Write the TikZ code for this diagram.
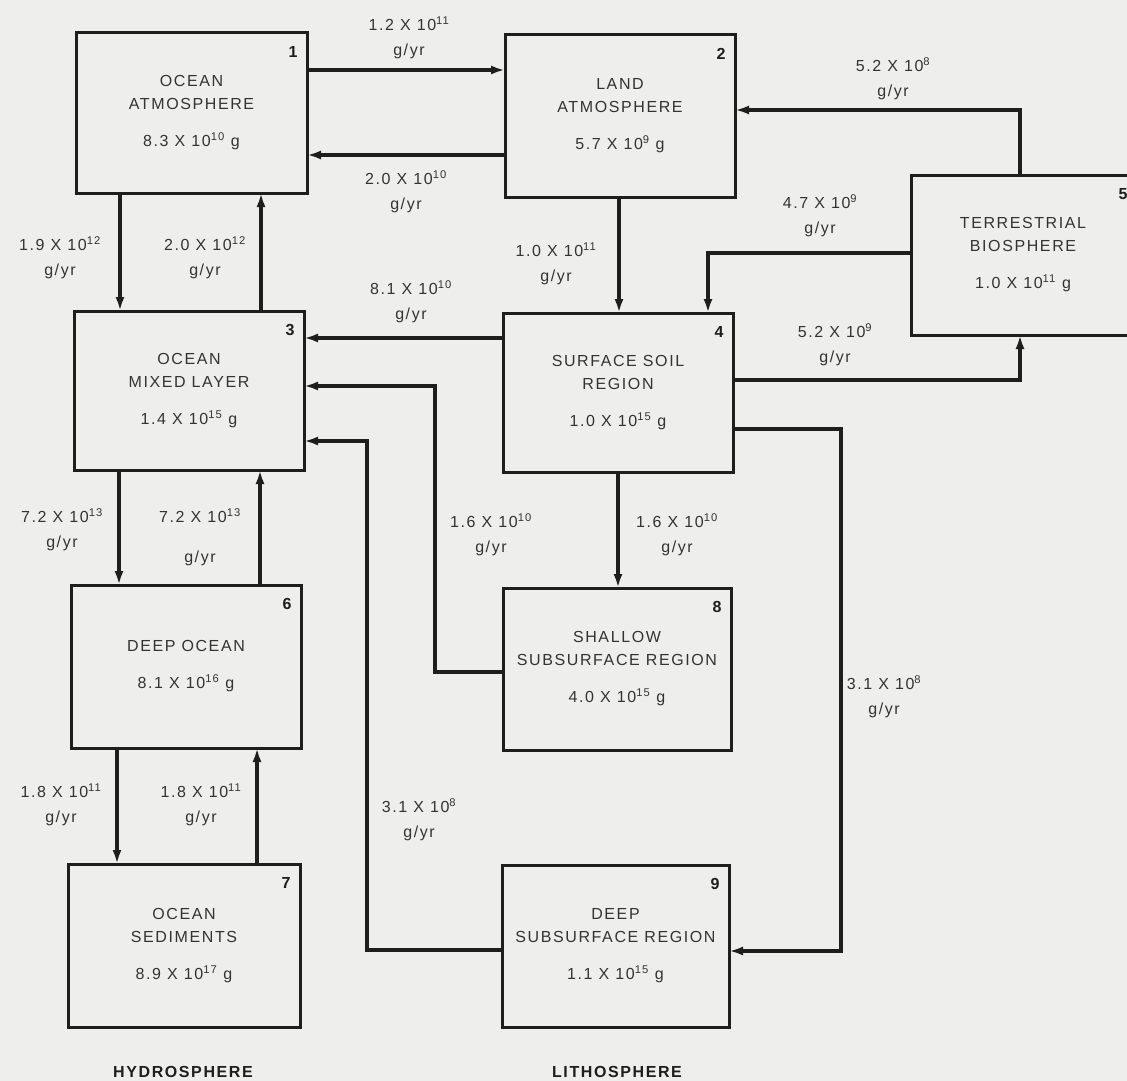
\documentclass[tikz,border=0pt]{standalone}
\usepackage{fontspec}
\setmainfont{Liberation Sans}[LetterSpace=10]
\usetikzlibrary{arrows.meta,calc}
\definecolor{bgc}{HTML}{EEEEEC}
\definecolor{linec}{HTML}{1E1E1E}
\definecolor{txtc}{HTML}{333333}
\newcommand{\ex}[1]{\textsuperscript{#1}}
\begin{document}
\begin{tikzpicture}[x=1pt,y=-1pt,
  box/.style={draw=linec, line width=3pt, outer sep=0pt, inner sep=0pt,
    align=center, text=txtc, font=\fontsize{16}{23}\selectfont},
  num/.style={text=linec, font=\fontsize{16}{18}\selectfont\bfseries},
  lab/.style={text=txtc, align=center, font=\fontsize{16}{25}\selectfont},
  captext/.style={text=linec, font=\fontsize{16}{18}\selectfont\bfseries},
  flow/.style={draw=linec, line width=3.4pt, -{Latex[length=14pt,width=9pt]}}]
\fill[bgc] (0,0) rectangle (1127,1081);
\clip (0,0) rectangle (1127,1081);
\useasboundingbox (0,0) rectangle (1127,1081);

% boxes
\node[box, minimum width=231pt, minimum height=160pt] (b1) at (191.5,113) {OCEAN\\ATMOSPHERE\\[14pt]8.3 X 10\ex{10} g};
\node[box, minimum width=230pt, minimum height=162pt] (b2) at (620,116) {LAND\\ATMOSPHERE\\[14pt]5.7 X 10\ex{9} g};
\node[box, minimum width=230pt, minimum height=159pt] (b3) at (189,390.5) {OCEAN\\MIXED LAYER\\[14pt]1.4 X 10\ex{15} g};
\node[box, minimum width=230pt, minimum height=159pt] (b4) at (618,392.5) {SURFACE SOIL\\REGION\\[14pt]1.0 X 10\ex{15} g};
\node[box, minimum width=224pt, minimum height=160pt] (b5) at (1023,255) {TERRESTRIAL\\BIOSPHERE\\[14pt]1.0 X 10\ex{11} g};
\node[box, minimum width=230pt, minimum height=163pt] (b6) at (186,666.5) {DEEP OCEAN\\[14pt]8.1 X 10\ex{16} g};
\node[box, minimum width=232pt, minimum height=163pt] (b7) at (184,945.5) {OCEAN\\SEDIMENTS\\[14pt]8.9 X 10\ex{17} g};
\node[box, minimum width=228pt, minimum height=162pt] (b8) at (617,669) {SHALLOW\\SUBSURFACE REGION\\[14pt]4.0 X 10\ex{15} g};
\node[box, minimum width=227pt, minimum height=162pt] (b9) at (615.5,946) {DEEP\\SUBSURFACE REGION\\[14pt]1.1 X 10\ex{15} g};

% box numbers
\node[num] (n1) at ($(b1.north east)+(-14,19)$) {1};
\node[num] (n2) at ($(b2.north east)+(-14,19)$) {2};
\node[num] (n3) at ($(b3.north east)+(-14,19)$) {3};
\node[num] (n4) at ($(b4.north east)+(-14,19)$) {4};
\node[num] (n5) at ($(b5.north east)+(-12,19)$) {5};
\node[num] (n6) at ($(b6.north east)+(-14,19)$) {6};
\node[num] (n7) at ($(b7.north east)+(-14,19)$) {7};
\node[num] (n8) at ($(b8.north east)+(-14,19)$) {8};
\node[num] (n9) at ($(b9.north east)+(-14,19)$) {9};

% connector coordinates
\coordinate (s12) at ($(b1.north east)+(0,37)$);
\coordinate (s21) at ($(b2.north west)+(0,120)$);
\coordinate (s13) at ($(b1.south west)+(44,0)$);
\coordinate (s31) at ($(b3.north west)+(187,0)$);
\coordinate (s24) at ($(b2.south west)+(114,0)$);
\coordinate (s52) at ($(b5.north west)+(109,0)$);
\coordinate (e52) at ($(b2.north east)+(0,75)$);
\coordinate (s54) at ($(b5.north west)+(0,78)$);
\coordinate (e54) at ($(b4.north west)+(205,0)$);
\coordinate (s45) at ($(b4.north east)+(0,67)$);
\coordinate (e45) at ($(b5.south west)+(109,0)$);
\coordinate (s43) at ($(b4.north west)+(0,25)$);
\coordinate (s83) at ($(b8.north west)+(0,84)$);
\coordinate (e83) at ($(b3.north east)+(0,75)$);
\coordinate (s93) at ($(b9.north west)+(0,85)$);
\coordinate (e93) at ($(b3.north east)+(0,130)$);
\coordinate (s48) at ($(b4.south west)+(115,0)$);
\coordinate (s49) at ($(b4.north east)+(0,116)$);
\coordinate (e49) at ($(b9.north east)+(0,86)$);
\coordinate (s36) at ($(b3.south west)+(45,0)$);
\coordinate (s63) at ($(b6.north west)+(189,0)$);
\coordinate (s67) at ($(b6.south west)+(46,0)$);
\coordinate (s76) at ($(b7.north west)+(189,0)$);

% connectors
\draw[flow] (s12) -- (s12 -| b2.west);
\draw[flow] (s21) -- (s21 -| b1.east);
\draw[flow] (s13) -- (s13 |- b3.north);
\draw[flow] (s31) -- (s31 |- b1.south);
\draw[flow] (s24) -- (s24 |- b4.north);
\draw[flow] (s52) |- (e52);
\draw[flow] (s54) -| (e54);
\draw[flow] (s45) -| (e45);
\draw[flow] (s43) -- (s43 -| b3.east);
\draw[flow] (s83) -- ++(-68,0) |- (e83);
\draw[flow] (s93) -- ++(-135,0) |- (e93);
\draw[flow] (s48) -- (s48 |- b8.north);
\draw[flow] (s49) -- ++(108,0) |- (e49);
\draw[flow] (s36) -- (s36 |- b6.north);
\draw[flow] (s63) -- (s63 |- b3.south);
\draw[flow] (s67) -- (s67 |- b7.north);
\draw[flow] (s76) -- (s76 |- b6.south);

% flow labels
\node[lab] (l12) at (409,37.5) {1.2 X 10\ex{11}\\g/yr};
\node[lab] (l21) at (406,191.5) {2.0 X 10\ex{10}\\g/yr};
\node[lab] (l13) at (60,258) {1.9 X 10\ex{12}\\g/yr};
\node[lab] (l31) at (205,258) {2.0 X 10\ex{12}\\g/yr};
\node[lab] (l43) at (411,301.5) {8.1 X 10\ex{10}\\g/yr};
\node[lab] (l24) at (556,263.5) {1.0 X 10\ex{11}\\g/yr};
\node[lab] (l52) at (893,78.5) {5.2 X 10\ex{8}\\g/yr};
\node[lab] (l54) at (820,215.5) {4.7 X 10\ex{9}\\g/yr};
\node[lab] (l45) at (835,345) {5.2 X 10\ex{9}\\g/yr};
\node[lab] (l36) at (62,529.5) {7.2 X 10\ex{13}\\g/yr};
\node[lab] (l63) at (200,537) {7.2 X 10\ex{13}\\[15pt]g/yr};
\node[lab] (l83) at (491,534.5) {1.6 X 10\ex{10}\\g/yr};
\node[lab] (l48) at (677,534.5) {1.6 X 10\ex{10}\\g/yr};
\node[lab] (l49) at (884,697) {3.1 X 10\ex{8}\\g/yr};
\node[lab] (l93) at (419,819.5) {3.1 X 10\ex{8}\\g/yr};
\node[lab] (l67) at (61,804.5) {1.8 X 10\ex{11}\\g/yr};
\node[lab] (l76) at (201,804.5) {1.8 X 10\ex{11}\\g/yr};

% captions
\node[captext] (hyd) at (183,1072) {HYDROSPHERE};
\node[captext] (lit) at (617,1072) {LITHOSPHERE};
\end{tikzpicture}
\end{document}
